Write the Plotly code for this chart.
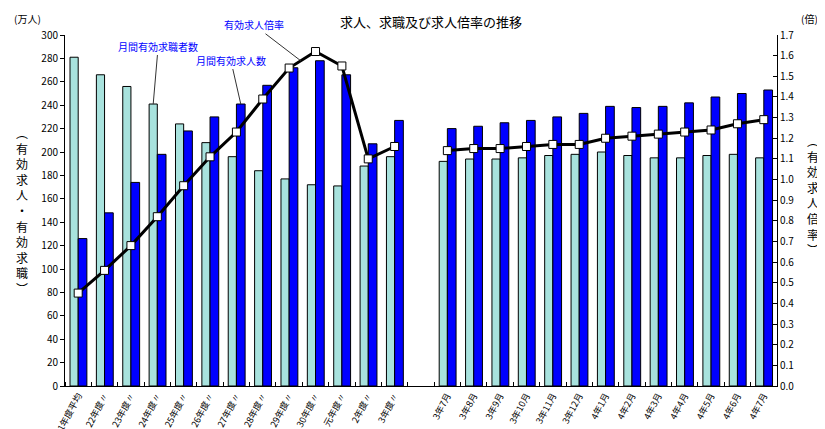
import plotly.graph_objects as go

# categories (blank slot separates fiscal-year averages from monthly values)
labels = ["21年度平均", "22年度〃", "23年度〃", "24年度〃", "25年度〃", "26年度〃",
          "27年度〃", "28年度〃", "29年度〃", "30年度〃", "元年度〃", "2年度〃", "3年度〃",
          "",
          "3年7月", "3年8月", "3年9月", "3年10月", "3年11月", "3年12月",
          "4年1月", "4年2月", "4年3月", "4年4月", "4年5月", "4年6月", "4年7月"]

# 月間有効求職者数 (万人)
seekers = [281, 266, 256, 241, 224, 208, 196, 184, 177, 172, 171, 188, 196,
           None,
           192, 194, 194, 195, 197, 198, 200, 197, 195, 195, 197, 198, 195]

# 月間有効求人数 (万人)
openings = [126, 148, 174, 198, 218, 230, 241, 257, 272, 278, 266, 207, 227,
            None,
            220, 222, 225, 227, 230, 233, 239, 238, 239, 242, 247, 250, 253]

# 有効求人倍率 (倍)
ratio = [0.45, 0.56, 0.68, 0.82, 0.97, 1.11, 1.23, 1.39, 1.54, 1.62, 1.55, 1.10, 1.16,
         None,
         1.14, 1.15, 1.15, 1.16, 1.17, 1.17, 1.20, 1.21, 1.22, 1.23, 1.24, 1.27, 1.29]

pos = list(range(len(labels)))
FONT = "Noto Sans CJK JP"

fig = go.Figure()

fig.add_trace(go.Bar(
    x=pos, y=seekers, name="月間有効求職者数",
    width=0.31, offset=-0.31,
    marker=dict(color="#A8E2DD", line=dict(color="black", width=1)),
))
fig.add_trace(go.Bar(
    x=pos, y=openings, name="月間有効求人数",
    width=0.33, offset=0,
    marker=dict(color="#0000FF", line=dict(color="black", width=1)),
))
fig.add_trace(go.Scatter(
    x=pos, y=ratio, yaxis="y2", name="有効求人倍率",
    mode="lines+markers", connectgaps=False,
    line=dict(color="black", width=3),
    marker=dict(symbol="square", size=8, color="white",
                line=dict(color="black", width=1)),
))

fig.update_layout(
    width=825, height=429,
    margin=dict(l=57, r=56, t=27, b=51),
    plot_bgcolor="white", paper_bgcolor="white",
    showlegend=False, barmode="overlay",
    font=dict(family=FONT, size=10, color="black"),
    xaxis=dict(
        range=[-0.5, len(labels) - 0.5], automargin=False,
        tickmode="array", tickvals=pos, ticktext=labels,
        tickangle=-62, ticks="", showgrid=False, zeroline=False,
        showline=True, linecolor="black", linewidth=1,
        tickfont=dict(size=9),
        minor=dict(ticks="inside", ticklen=4, tickcolor="black",
                   tick0=-0.5, dtick=1, showgrid=False),
    ),
    yaxis=dict(
        range=[0, 300], dtick=20, showgrid=False, zeroline=False, automargin=False,
        showline=True, linecolor="black", linewidth=1,
        ticks="outside", ticklen=4, tickcolor="black",
        tickfont=dict(size=10),
    ),
    yaxis2=dict(
        range=[0, 1.7], dtick=0.1, tickformat=".1f", overlaying="y", side="right",
        showgrid=False, zeroline=False, automargin=False,
        showline=True, linecolor="black", linewidth=1,
        ticks="inside", ticklen=4, tickcolor="black",
        tickfont=dict(size=10),
    ),
)

blue = "#0000FF"
fig.add_annotation(text="求人、求職及び求人倍率の推移", xref="paper", yref="paper",
                   x=(423 - 57) / 712, y=1, yshift=14, showarrow=False,
                   font=dict(size=13), xanchor="center", yanchor="middle")
fig.add_annotation(text="(万人)", xref="paper", yref="paper", x=-57 / 712, y=1,
                   yshift=17, xshift=4, showarrow=False, xanchor="left",
                   yanchor="middle", font=dict(size=10))
fig.add_annotation(text="(倍)", xref="paper", yref="paper", x=1, y=1,
                   yshift=17, xshift=22, showarrow=False, xanchor="left",
                   yanchor="middle", font=dict(size=10))

fig.add_annotation(text="<br>".join("︵有効求人・有効求職︶"), xref="paper", yref="paper",
                   x=-43 / 712, y=(378 - 203) / 351, showarrow=False,
                   font=dict(size=12), xanchor="center", yanchor="middle")
fig.add_annotation(text="<br>".join("︵有効求人倍率︶"), xref="paper", yref="paper",
                   x=1 + 36 / 712, y=(378 - 187) / 351, showarrow=False,
                   font=dict(size=12), xanchor="center", yanchor="middle")

# callouts
fig.add_annotation(text="月間有効求職者数", x=3 - 0.155, y=seekers[3], xref="x", yref="y",
                   ax=5, ay=-58, showarrow=True, arrowhead=0, arrowwidth=1,
                   arrowcolor="#333333", font=dict(size=10, color=blue))
fig.add_annotation(text="月間有効求人数", x=6 + 0.165, y=openings[6], xref="x", yref="y",
                   ax=-10, ay=-44, showarrow=True, arrowhead=0, arrowwidth=1,
                   arrowcolor="#333333", font=dict(size=10, color=blue))
fig.add_annotation(text="有効求人倍率", x=8.44, y=ratio[8] + 0.44 * (ratio[9] - ratio[8]),
                   xref="x", yref="y2",
                   ax=-47, ay=-36, showarrow=True, arrowhead=0, arrowwidth=1,
                   arrowcolor="#333333", font=dict(size=10, color=blue))

fig.write_html("out.html")
